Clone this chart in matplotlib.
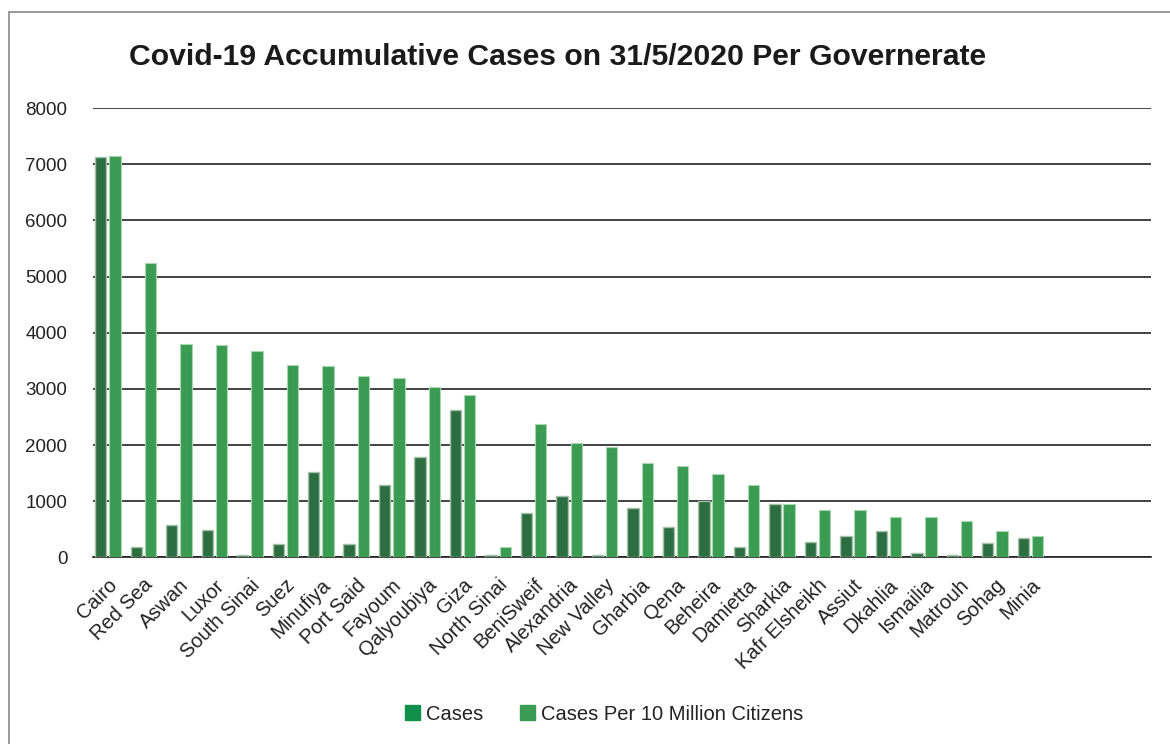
import numpy as np
import matplotlib.pyplot as plt
from matplotlib.patches import Rectangle, Patch

plt.rcParams['font.family'] = ['Liberation Sans', 'DejaVu Sans']

governorates = ['Cairo', 'Red Sea', 'Aswan', 'Luxor', 'South Sinai', 'Suez', 'Minufiya',
                'Port Said', 'Fayoum', 'Qalyoubiya', 'Giza', 'North Sinai', 'BeniSweif',
                'Alexandria', 'New Valley', 'Gharbia', 'Qena', 'Beheira', 'Damietta',
                'Sharkia', 'Kafr Elsheikh', 'Assiut', 'Dkahlia', 'Ismailia', 'Matrouh',
                'Sohag', 'Minia']
cases = [7136, 178, 575, 481, 46, 237, 1525, 231, 1282, 1787, 2627, 41, 783,
         1086, 41, 878, 545, 997, 178, 949, 273, 374, 474, 77, 41, 249, 344]
per_10m = [7153, 5248, 3800, 3776, 3675, 3425, 3408, 3230, 3194, 3034, 2891, 189, 2369,
           2031, 1960, 1685, 1621, 1484, 1282, 949, 848, 848, 712, 712, 641, 474, 374]
yticks = [0, 1000, 2000, 3000, 4000, 5000, 6000, 7000, 8000]

fig = plt.figure(figsize=(11.7, 7.44), dpi=100)
ax = fig.add_axes([93/1170, 1-557.3/744, (1151-93)/1170, (557.3-108.2)/744])

x = np.arange(len(governorates))
w = 0.32
ax.bar(x - 0.2, cases, w, color='#2c6e41', edgecolor='#a3c2a8', linewidth=1.0, zorder=3)
ax.bar(x + 0.2, per_10m, w, color='#3a9b52', edgecolor='#a9d6b2', linewidth=0.8, zorder=3)

ax.set_xlim(-0.42, 29.4)
ax.set_ylim(0, 8000)
ax.set_yticks(yticks)
ax.set_yticklabels([str(v) for v in yticks], fontsize=13.5, color='#222222')
ax.yaxis.grid(True, color='#222222', linewidth=1.2, zorder=0)
ax.tick_params(axis='both', length=0)
ax.tick_params(axis='y', pad=18.5)
for s in ['top', 'right', 'left']:
    ax.spines[s].set_visible(False)
ax.spines['bottom'].set_color('#222222')
ax.spines['bottom'].set_linewidth(1.2)

ax.set_xticks(x)
ax.set_xticklabels(governorates, rotation=45, ha='right', rotation_mode='anchor',
                   fontsize=14.5, color='#222222')
ax.tick_params(axis='x', pad=13)

fig.text(558/1170, 1-57/744, 'Covid-19 Accumulative Cases on 31/5/2020 Per Governerate',
         ha='center', va='center', fontsize=21.7, fontweight='bold', color='#1a1a1a')

handles = [Patch(color='#10904a', label='Cases'),
           Patch(color='#3a9b52', label='Cases Per 10 Million Citizens')]
fig.legend(handles=handles, loc='center', bbox_to_anchor=(604/1170, 1-714/744), ncol=2,
           frameon=False, fontsize=14.5, handlelength=0.75, handleheight=0.75,
           handletextpad=0.3, columnspacing=1.8, labelcolor='#222222')

fig.patches.append(Rectangle((9/1170, -0.1), 1.2, 1-12/744+0.1, transform=fig.transFigure,
                             fill=False, edgecolor='#888888', linewidth=1.2))

fig.savefig('out.png', dpi=100)
